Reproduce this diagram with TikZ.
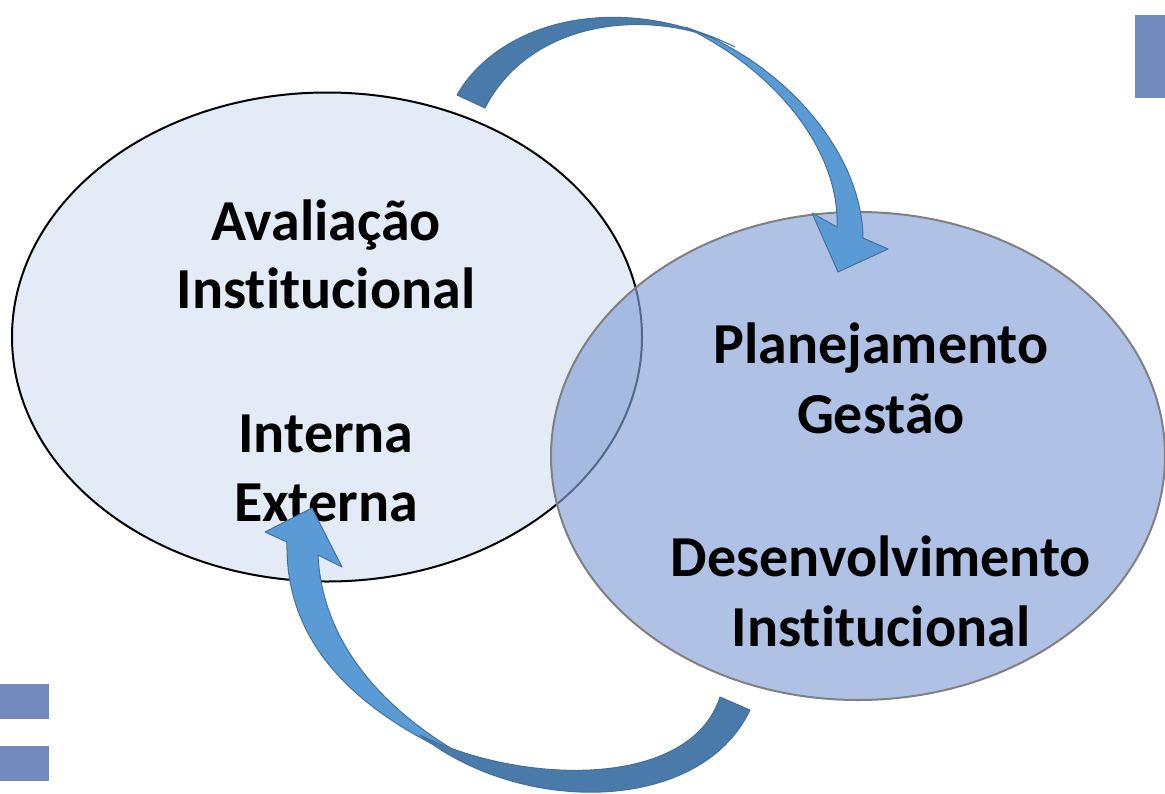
\documentclass[tikz,border=0pt]{standalone}
\usepackage{fontspec}
\setmainfont{Carlito}[Ligatures=NoCommon]
\usepackage{tikz}
\usetikzlibrary{shapes.geometric}
\definecolor{bubbleA}{RGB}{226,235,246}
\definecolor{bubbleB}{RGB}{132,160,215}
\definecolor{rimB}{RGB}{128,128,128}
\definecolor{arrowLight}{RGB}{91,155,213}
\definecolor{arrowDark}{RGB}{73,122,170}
\definecolor{arrowEdge}{RGB}{65,113,156}
\definecolor{tabBlue}{RGB}{114,138,190}

\begin{document}
\begin{tikzpicture}[x=1pt,y=-1pt,
    bubble/.style={ellipse,inner sep=0pt,line width=2pt},
    word/.style={anchor=base,font=\fontsize{58}{70}\selectfont\bfseries},
    ribbon/.style={draw=arrowEdge,line width=1pt,line join=round}]
    % page frame
    \useasboundingbox (0,0) rectangle (1165,793);

    % the two ellipses
    \node[bubble,draw=black,fill=bubbleA,minimum width=630pt,minimum height=489pt] (aval) at (327,337) {};
    \node[bubble,draw=rimB,fill=bubbleB,fill opacity=0.65,minimum width=614pt,minimum height=488pt] (plan) at (858,456) {};

    % texts of the left ellipse
    \node[word] (avalA) at (326,240) {Avaliação};
    \node[word] (avalB) at (326,308) {Institucional};
    \node[word] (avalC) at (326,452) {Interna};
    \node[word] (avalD) at (326,521) {Externa};

    % texts of the right ellipse
    \node[word] (planA) at (881,363) {Planejamento};
    \node[word] (planB) at (881,433) {Gestão};
    \node[word] (planC) at (881,576) {Desenvolvimento};
    \node[word] (planD) at (881,646) {Institucional};

    % top arrow: front part with head, then back part
    \draw[ribbon,fill=arrowLight] (685,27) .. controls (780,60) and (862,150) .. (863,238)
        -- (888,249) -- (838,272) -- (812,213) -- (837,227)
        .. controls (840,150) and (775,70) .. (685,27) -- cycle;
    \draw[ribbon,fill=arrowDark] (457,95) .. controls (500,20) and (620,-10) .. (735,47)
        .. controls (650,5) and (530,20) .. (485,108) -- cycle;

    % bottom arrow
    \draw[ribbon,fill=arrowLight] (490,770) .. controls (350,715) and (285,640) .. (287,542)
        -- (265,532) -- (312,508) -- (342,567) -- (318,555)
        .. controls (322,640) and (380,715) .. (490,770) -- cycle;
    \draw[ribbon,fill=arrowDark] (750,710) .. controls (700,815) and (520,815) .. (420,735)
        .. controls (520,785) and (690,790) .. (720,697) -- cycle;

    % small tabs at the page edges
    \fill[tabBlue] (1135,15) rectangle (1165,98);
    \foreach \y in {684,746}
        \fill[tabBlue] (0,\y) rectangle (49,\y+35);
\end{tikzpicture}
\end{document}
